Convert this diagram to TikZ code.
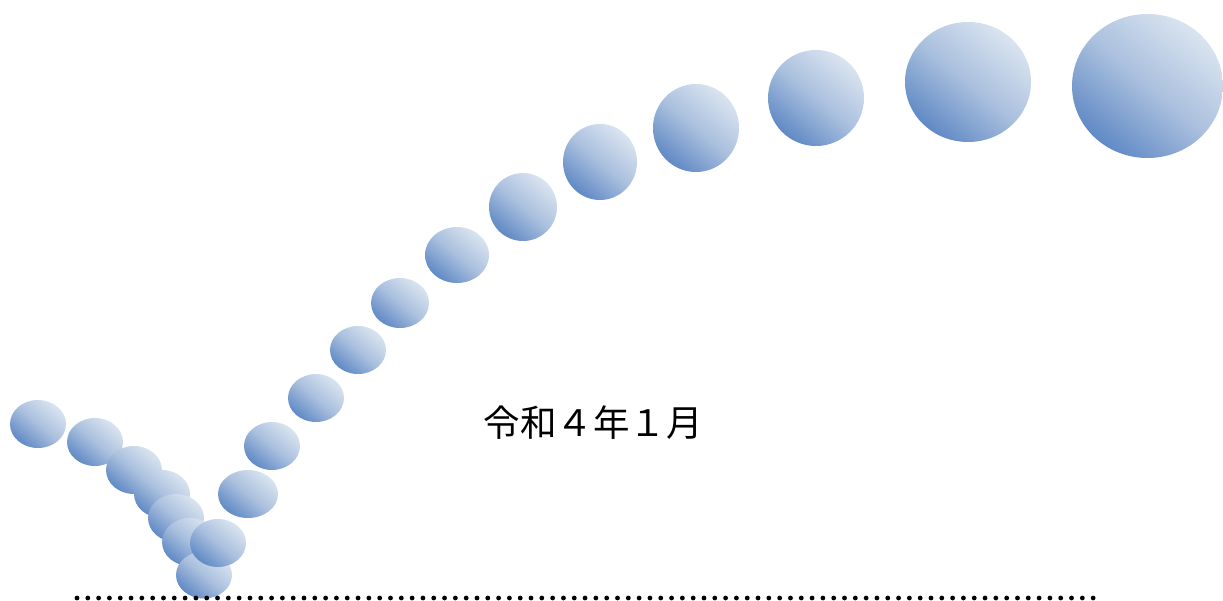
\documentclass[tikz,border=0pt]{standalone}
\usepackage{fontspec}
\newfontfamily\jpfont{Noto Sans CJK JP}
\definecolor{balldark}{RGB}{96,137,197}
\definecolor{balllight}{RGB}{218,228,240}
\definecolor{ballmid}{RGB}{170,192,222}
\begin{document}
\begin{tikzpicture}[x=1pt,y=-1pt,
  ball/.style={top color=balllight,bottom color=balldark,middle color=ballmid,shading angle=-40,draw=none},
  dotmark/.style={fill=black,draw=none}]
\useasboundingbox (0,0) rectangle (1223,600);
\foreach \cx/\cy/\rx/\ry in {
  38/424/28/24, 95/442/28/24, 134/470/28/24, 162/494/28/24, 176/518/28/24,
  190/542/28/24, 204/575/28/23.5, 218/543/28/24, 248/494/30/24, 272/446/28/24,
  316/398/28/24, 358/350/28/24, 400/303/29/25, 457/255/32/28, 523/207/34/34,
  600/162/37/38, 696/128/43/44, 816/98/48/48, 968/82/63/60, 1147.5/86/75.5/72}
  \shade[ball] (\cx,\cy) ellipse [x radius=\rx, y radius=\ry];
\node[font=\jpfont\fontsize{36.5}{40}\selectfont, inner sep=0pt] (title) at (593,423) {令和４年１月};
\foreach \i in {0,...,94}
  \fill[dotmark] (77+\i*10.81,598) circle (2.4);
\end{tikzpicture}
\end{document}
